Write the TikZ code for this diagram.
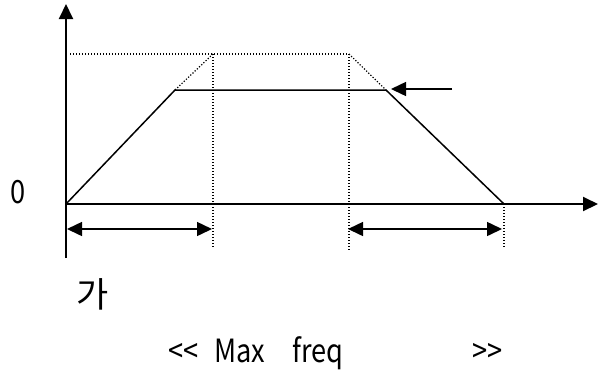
\documentclass[tikz,border=0pt]{standalone}
\usepackage{fontspec}
\newfontfamily\hanfont{Noto Sans CJK KR}
\newfontfamily\narrowfont[FakeStretch=0.85]{Noto Sans CJK KR}
\usetikzlibrary{arrows.meta}

\begin{document}
\begin{tikzpicture}[x=1pt, y=-1pt, >={Triangle[length=15pt,width=14pt]},
    axis/.style={line width=2pt},
    ramp/.style={line width=1.5pt},
    guide/.style={line width=1.2pt, dash pattern=on 1.2pt off 1.8pt},
    label/.style={font=\narrowfont\fontsize{32}{36}\selectfont, inner sep=0pt}]
    \useasboundingbox (0,0) rectangle (599,376);

    % Points {origin, axis ends, ramp corners, max level, ticks}
    \coordinate (O)    at (66,204);
    \coordinate (ytop) at (66,4);
    \coordinate (ybot) at (66,258);
    \coordinate (xend) at (598,204);
    \coordinate (A)    at (175,90);
    \coordinate (B)    at (386,90);
    \coordinate (C)    at (504,204);
    \coordinate (L)    at (70,54);
    \coordinate (P)    at (213,54);
    \coordinate (Q)    at (349,54);
    \coordinate (t1)   at (213,247);
    \coordinate (t2)   at (349,251);
    \coordinate (t3)   at (504,248);
    \coordinate (m1)   at (67,229);
    \coordinate (m2)   at (212,229);
    \coordinate (m3)   at (348,229);
    \coordinate (m4)   at (502,229);
    \coordinate (r0)   at (452,89);
    \coordinate (r1)   at (391,89);

    % Labels
    \node [label, anchor=base]  (zero) at (18,203)  {0};
    \node [label, font=\hanfont\fontsize{35}{38}\selectfont] (ga) at (93,294) {가};
    \node [label, anchor=base west] (lq)   at (168,362) {<<};
    \node [label, anchor=base west] (max)  at (214,362) {Max};
    \node [label, anchor=base west] (freq) at (292,362) {freq};
    \node [label, anchor=base east] (rq)   at (503,362) {>>};

    % Axes
    \draw [axis, ->] (ybot) -- (ytop);
    \draw [axis, ->] (O) -- (xend);

    % Max level and guides
    \draw [guide] (L) -- (P) -- (Q);
    \draw [guide] (P) -- (A);
    \draw [guide] (Q) -- (B);
    \draw [guide] (P) -- (t1);
    \draw [guide] (Q) -- (t2);
    \draw [guide] (C) -- (t3);

    % Speed profile
    \draw [ramp] (O) -- (A) -- (B) -- (C);

    % Time spans and marker
    \draw [ramp, <->] (m1) -- (m2);
    \draw [ramp, <->] (m3) -- (m4);
    \draw [ramp, ->]  (r0) -- (r1);
\end{tikzpicture}
\end{document}
